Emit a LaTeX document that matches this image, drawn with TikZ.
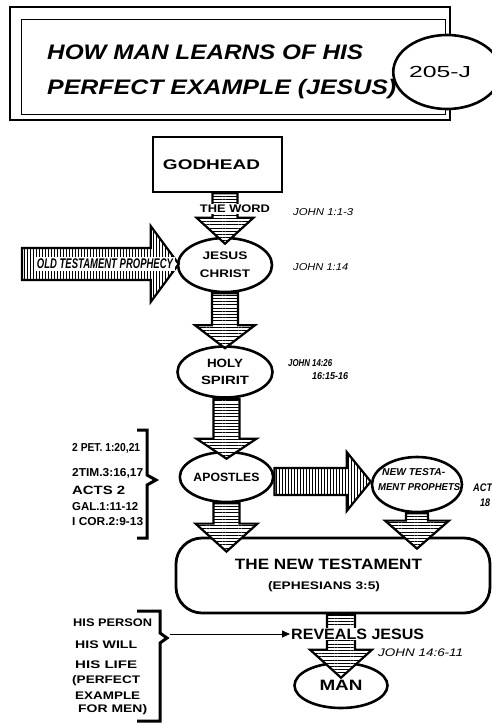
\documentclass[tikz,border=0pt]{standalone}
\usepackage{fontspec}
\usepackage{graphicx}
\setmainfont{Liberation Sans}
\usetikzlibrary{shapes.geometric,patterns.meta,arrows.meta,calc}

% hand lettering: text at a given size, stretched to a given width
\newcommand\hw[3]{{\fontsize{#1}{#1}\selectfont\resizebox{#2pt}{\height}{#3}}}

% hatched block arrow pointing down
% #1 start point, #2 target point, #3 shaft half width, #4 head half width,
% #5 head length, #6 how far the tip runs past the target point
\newcommand\vblock[6]{%
  \path[hatchv] let \p1=#1, \p2=#2 in
    (\x2-#3pt,\y1) -- (\x2-#3pt,\y2-#6pt+#5pt) -- (\x2-#4pt,\y2-#6pt+#5pt)
    -- (\x2,\y2-#6pt) -- (\x2+#4pt,\y2-#6pt+#5pt) -- (\x2+#3pt,\y2-#6pt+#5pt)
    -- (\x2+#3pt,\y1) -- cycle;}

% hatched block arrow pointing right
\newcommand\hblock[6]{%
  \path[hatchh] let \p1=#1, \p2=#2 in
    (\x1,\y1+#3pt) -- (\x2+#6pt-#5pt,\y1+#3pt) -- (\x2+#6pt-#5pt,\y1+#4pt)
    -- (\x2+#6pt,\y1) -- (\x2+#6pt-#5pt,\y1-#4pt) -- (\x2+#6pt-#5pt,\y1-#3pt)
    -- (\x1,\y1-#3pt) -- cycle;}

\tikzset{
  oval/.style={draw, ellipse, line width=2.6pt, fill=white, inner sep=0pt, align=center},
  lbl/.style={inner sep=0pt, anchor=west},
  hatchv/.style={draw, line width=2.2pt, line join=miter, preaction={fill=white},
    pattern={Lines[angle=0,distance=3.2pt,line width=0.9pt]}},
  hatchh/.style={draw, line width=2.2pt, line join=miter, preaction={fill=white},
    pattern={Lines[angle=90,distance=3pt,line width=0.9pt]}},
  bracket/.style={line width=3pt, line join=miter},
}

\begin{document}
\begin{tikzpicture}[x=1pt,y=-1pt]
\fill[white] (0,0) rectangle (492,724);
\useasboundingbox (0,0) rectangle (492,724);

% title panel
\draw[line width=2.6pt] (10,7) rectangle (450,120);
\draw[line width=1pt] (21,19) rectangle (445,114);
\node[lbl] (title1) at (47,52) {\bfseries\itshape\hw{21}{316}{HOW MAN LEARNS OF HIS}};
\node[lbl] (title2) at (47,89) {\bfseries\itshape\hw{21}{349}{PERFECT EXAMPLE (JESUS)}};
\node[oval, minimum width=88pt, minimum height=74pt] (code) at (447,72)
  {\hw{16}{62}{205-J}\rule{14pt}{0pt}};

% main chain
\node[draw, line width=2.6pt, fill=white, minimum width=129pt, minimum height=55pt, inner sep=0pt]
  (godhead) at (217.5,164.5) {\bfseries\hw{14}{97}{GODHEAD}\rule{12pt}{0pt}};
\node[oval, minimum width=94pt, minimum height=54pt, font=\bfseries\fontsize{11}{18}\selectfont]
  (jesus) at (225,265) {\hw{11}{45}{JESUS}\\\hw{11}{50}{CHRIST}};
\node[oval, minimum width=95pt, minimum height=51pt, font=\bfseries\fontsize{12}{17}\selectfont]
  (spirit) at (225,372) {\hw{12}{36}{HOLY}\\\hw{12}{48}{SPIRIT}};
\node[oval, minimum width=93pt, minimum height=50pt, font=\bfseries]
  (apostles) at (226.5,477) {\hw{12}{66}{APOSTLES}};
\node[oval, minimum width=90pt, minimum height=55pt] (ntp) at (417,484.5) {};
\node[lbl] (ntp1) at (382,472) {\bfseries\itshape\hw{10}{63}{NEW TESTA-}};
\node[lbl] (ntp2) at (378,487) {\bfseries\itshape\hw{10}{82}{MENT PROPHETS}};
\node[draw, rounded corners=26pt, line width=2.8pt, fill=white, minimum width=314pt,
  minimum height=75pt, inner sep=0pt, align=center, font=\bfseries\fontsize{15}{20}\selectfont]
  (nt) at (333,575.5) {\hw{15}{187}{THE NEW TESTAMENT}\rule{9pt}{0pt}\\\hw{11}{112}{(EPHESIANS 3:5)}\rule{18pt}{0pt}};
\node[oval, minimum width=93pt, minimum height=45pt, font=\bfseries] (man) at (341,685.5) {\hw{15}{43}{MAN}};

% block arrows
\coordinate (otstart) at (22,264);
\hblock{(otstart)}{(jesus.west)}{16}{38}{28}{2}
\hblock{([yshift=-4.5pt]apostles.east)}{(ntp.west)}{13.5}{29.5}{24}{0}
\vblock{(jesus.north |- godhead.south)}{(jesus.north)}{12.5}{28.5}{26}{7}
\vblock{(jesus.south)}{(spirit.north)}{13}{30}{23}{3}
\vblock{(spirit.south)}{(apostles.north)}{13}{30}{20}{8}
\vblock{(apostles.south)}{(apostles.south |- nt.north)}{13}{31}{28}{15}
\vblock{(ntp.south)}{(ntp.south |- nt.north)}{11}{32}{28}{12}
\vblock{(man.north |- nt.south)}{(man.north)}{14}{31}{28}{16}

% labels lying on the arrows
\node[fill=white, inner sep=1.5pt] (word) at (235,209) {\bfseries\hw{11}{70}{THE WORD}};
\node[fill=white, inner sep=2pt] (ottext) at (105,264) {\bfseries\itshape\hw{14}{136}{OLD TESTAMENT PROPHECY}};
\node[lbl, fill=white, inner sep=1pt] (reveals) at (290,634) {\bfseries\hw{15}{133}{REVEALS JESUS}};

% scripture references
\node[lbl] (r1) at (293,212) {\itshape\hw{10}{60}{JOHN 1:1-3}};
\node[lbl] (r2) at (293,267) {\itshape\hw{10}{55}{JOHN 1:14}};
\node[lbl] (r3) at (288,363) {\bfseries\itshape\hw{10}{44}{JOHN 14:26}};
\node[lbl] (r4) at (312,376) {\bfseries\itshape\hw{10}{36}{16:15-16}};
\node[lbl] (r5) at (473,488) {\bfseries\itshape\hw{11}{19}{ACT}};
\node[lbl] (r6) at (480,503) {\bfseries\itshape\hw{11}{10}{18}};
\node[lbl] (r7) at (378,653) {\itshape\hw{11}{85}{JOHN 14:6-11}};

% references for the apostles
\node[lbl] (p1) at (72,448) {\bfseries\hw{11.5}{68}{2 PET. 1:20,21}};
\node[lbl] (p2) at (72,473) {\bfseries\hw{11.5}{71}{2TIM.3:16,17}};
\node[lbl] (p3) at (72,490) {\bfseries\hw{12}{53}{ACTS 2}};
\node[lbl] (p4) at (72,507) {\bfseries\hw{11.5}{66}{GAL.1:11-12}};
\node[lbl] (p5) at (72,522) {\bfseries\hw{11.5}{71}{I COR.2:9-13}};
\draw[bracket] (137,430) -- (147,430) -- (147,475) -- (156,480) -- (147,485) -- (147,538) -- (137,538);

% what is revealed
\node[lbl] (h1) at (73,623) {\bfseries\hw{11}{79}{HIS PERSON}};
\node[lbl] (h2) at (75,645) {\bfseries\hw{11}{62}{HIS WILL}};
\node[lbl] (h3) at (75,665) {\bfseries\hw{11}{62}{HIS LIFE}};
\node[lbl] (h4) at (72,681) {\bfseries\hw{11}{68}{(PERFECT}};
\node[lbl] (h5) at (75,696) {\bfseries\hw{11}{65}{EXAMPLE}};
\node[lbl] (h6) at (78,710) {\bfseries\hw{11}{69}{FOR MEN)}};
\draw[bracket] (137,611) -- (160,611) -- (160,633) -- (167,638) -- (160,643) -- (160,721) -- (137,721);
\coordinate (bp) at (170,634);
\draw[line width=0.8pt, -{Triangle[length=8pt,width=7pt]}] (bp) -- (reveals.west);
\end{tikzpicture}
\end{document}
